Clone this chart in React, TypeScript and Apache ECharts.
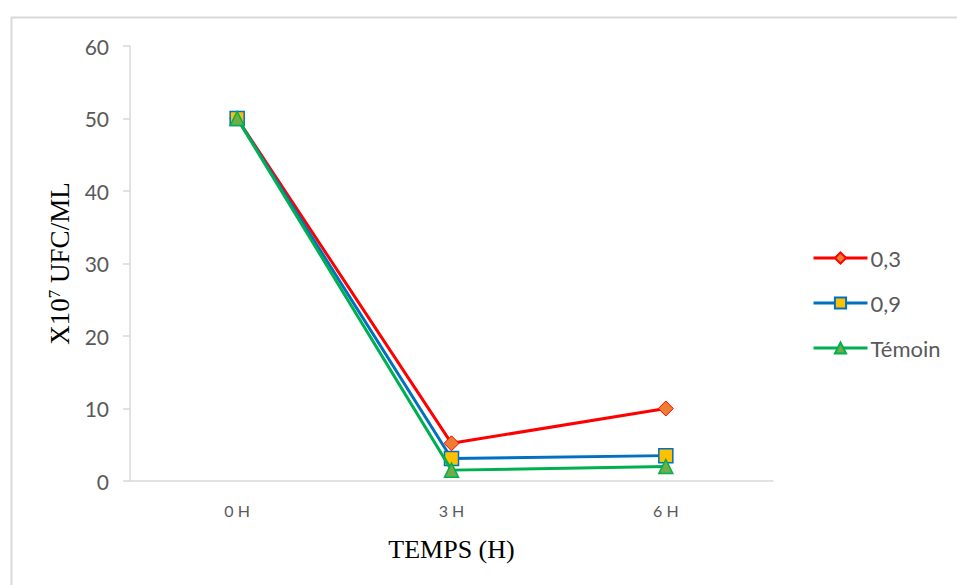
import React, { useEffect, useRef } from "react";
import * as echarts from "echarts";

const categories = ["0 H", "3 H", "6 H"];
const s03 = [50, 5.2, 10];
const s09 = [50, 3.1, 3.5];
const temoin = [50, 1.5, 2];
const seriesNames = ["0,3", "0,9", "Témoin"];

export default function App() {
  const ref = useRef<HTMLDivElement>(null);
  useEffect(() => {
    if (!ref.current) return;
    const chart = echarts.init(ref.current, undefined, { renderer: "svg" });
    const gray = "#595959";
    chart.setOption({
      animation: false,
      backgroundColor: "#ffffff",
      graphic: [
        {
          type: "rect",
          shape: { x: 11.5, y: 17.5, width: 1000, height: 700 },
          style: { fill: "none", stroke: "#d9d9d9", lineWidth: 2 },
          silent: true,
        },
      ],
      grid: { left: 130, right: 184, top: 46, bottom: 104 },
      legend: {
        orient: "vertical",
        left: 807,
        top: 241,
        itemWidth: 54,
        itemHeight: 14,
        itemGap: 21,
        data: seriesNames,
        lineStyle: { width: 3 },
        textStyle: { fontFamily: "Lato", fontSize: 22, lineHeight: 24, color: gray, padding: [0, 0, 0, -2] },
      },
      xAxis: {
        type: "category",
        data: categories,
        boundaryGap: true,
        axisLine: { lineStyle: { color: "#d9d9d9", width: 1.5 } },
        axisTick: { show: false },
        axisLabel: { color: gray, fontFamily: "Lato", fontSize: 16, margin: 21 },
        name: "TEMPS (H)",
        nameLocation: "middle",
        nameGap: 55,
        nameTextStyle: { fontFamily: "Liberation Serif", fontSize: 26, color: "#000" },
      },
      yAxis: {
        type: "value",
        min: 0,
        max: 60,
        interval: 10,
        splitLine: { show: false },
        axisLine: { show: true, lineStyle: { color: "#d9d9d9", width: 1.5 } },
        axisTick: { show: true, length: 7, lineStyle: { color: "#d9d9d9", width: 1.5 } },
        axisLabel: { color: gray, fontFamily: "Lato", fontSize: 21, margin: 21 },
        name: "{a|X10}{s|7}{a| UFC/ML}",
        nameLocation: "middle",
        nameGap: 56,
        nameRotate: 90,
        nameTextStyle: {
          rich: {
            a: { fontFamily: "Liberation Serif", fontSize: 27, color: "#000" },
            s: { fontFamily: "Liberation Serif", fontSize: 17, color: "#000", padding: [0, 0, 11, 0] },
          },
        },
      },
      series: [
        {
          name: seriesNames[0],
          type: "line",
          data: s03,
          symbol: "diamond",
          symbolSize: 15,
          lineStyle: { color: "#ff0000", width: 3 },
          itemStyle: { color: "#ED7D31", borderColor: "#ff0000", borderWidth: 1 },
          z: 3,
        },
        {
          name: seriesNames[1],
          type: "line",
          data: s09,
          symbol: "rect",
          symbolSize: 14,
          lineStyle: { color: "#0070C0", width: 3 },
          itemStyle: { color: "#FFC000", borderColor: "#0070C0", borderWidth: 1.5 },
          z: 4,
        },
        {
          name: seriesNames[2],
          type: "line",
          data: temoin,
          symbol: "triangle",
          symbolSize: 14,
          lineStyle: { color: "#00B050", width: 3 },
          itemStyle: { color: "#70AD47", borderColor: "#00B050", borderWidth: 1.5 },
          z: 5,
        },
      ],
    });
    return () => chart.dispose();
  }, []);
  return <div ref={ref} style={{ width: 957, height: 585, position: "absolute", left: 0, top: 0 }} />;
}
